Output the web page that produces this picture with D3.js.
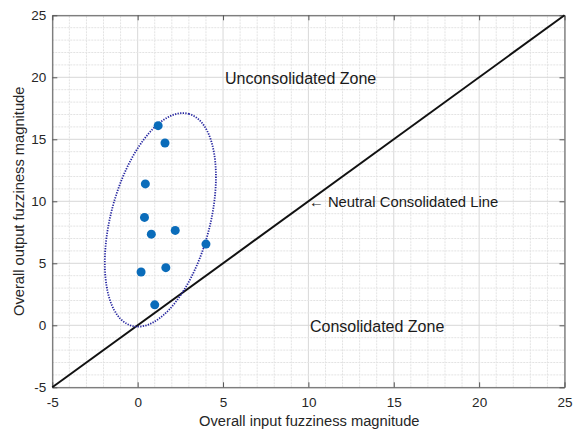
<!DOCTYPE html>
<html>
<head>
<meta charset="utf-8">
<script src="https://cdn.jsdelivr.net/npm/d3@7"></script>
<style>
  html, body { margin: 0; padding: 0; background: #fff; }
  svg { display: block; font-family: "Liberation Sans", Arial, sans-serif; }
</style>
</head>
<body>
<svg id="chart" width="574" height="430"></svg>
<script>
// Fuzziness magnitudes: input (x) vs output (y) per case
const inputMagnitude  = [1.2, 1.6, 0.45, 0.4, 0.8, 2.2, 4.0, 0.2, 1.65, 1.0];
const outputMagnitude = [16.1, 14.7, 11.4, 8.7, 7.35, 7.65, 6.55, 4.3, 4.65, 1.65];

const xTicks = [-5, 0, 5, 10, 15, 20, 25];
const yTicks = [-5, 0, 5, 10, 15, 20, 25];

// Cluster outline: centre and two conjugate semi-axis vectors (data units)
const clusterCenter = [1.33, 8.5];
const clusterAxisU  = [1.66, 8.55];
const clusterAxisV  = [2.80, -1.03];

const svg = d3.select("#chart");
const margin = { left: 52.3, right: 9.5, top: 15.3, bottom: 42.7 };
const W = 574, H = 430;

const x = d3.scaleLinear().domain([-5, 25]).range([margin.left, W - margin.right]);
const y = d3.scaleLinear().domain([-5, 25]).range([H - margin.bottom, margin.top]);

const g = svg.append("g");

// Grid: every unit, slightly stronger on the major ticks
const minor = d3.range(-5, 26, 1);
g.append("g").selectAll("line").data(minor).join("line")
  .attr("x1", d => x(d)).attr("x2", d => x(d))
  .attr("y1", y(-5)).attr("y2", y(25))
  .attr("stroke", d => d % 5 === 0 ? "#d8d8d8" : "#e3e3e3")
  .attr("stroke-width", 1)
  .attr("stroke-dasharray", d => d % 5 === 0 ? null : "2,1");
g.append("g").selectAll("line").data(minor).join("line")
  .attr("y1", d => y(d)).attr("y2", d => y(d))
  .attr("x1", x(-5)).attr("x2", x(25))
  .attr("stroke", d => d % 5 === 0 ? "#d8d8d8" : "#e3e3e3")
  .attr("stroke-width", 1)
  .attr("stroke-dasharray", d => d % 5 === 0 ? null : "2,1");

// Axes (box with ticks on all four sides)
const axisColor = "#555";
const tickFont = "13.5px";
const fmt = d => String(d);
const xAxis = g.append("g").attr("transform", `translate(0,${y(-5)})`)
  .call(d3.axisBottom(x).tickValues(xTicks).tickFormat(fmt).tickSize(-5).tickSizeOuter(0).tickPadding(10));
const yAxis = g.append("g").attr("transform", `translate(${x(-5)},0)`)
  .call(d3.axisLeft(y).tickValues(yTicks).tickFormat(fmt).tickSize(-5).tickSizeOuter(0).tickPadding(6));
const xTop = g.append("g").attr("transform", `translate(0,${y(25)})`)
  .call(d3.axisTop(x).tickValues(xTicks).tickSize(-5).tickSizeOuter(0).tickFormat(""));
const yRight = g.append("g").attr("transform", `translate(${x(25)},0)`)
  .call(d3.axisRight(y).tickValues(yTicks).tickSize(-5).tickSizeOuter(0).tickFormat(""));

[xAxis, yAxis, xTop, yRight].forEach(a => {
  a.select(".domain").attr("stroke", axisColor).attr("stroke-width", 1);
  a.selectAll(".tick line").attr("stroke", axisColor);
  a.selectAll(".tick text").attr("fill", "#262626")
    .style("font-size", tickFont).style("font-family", "Liberation Sans, Arial, sans-serif");
});

// Neutral consolidated line y = x
g.append("line")
  .attr("x1", x(-5)).attr("y1", y(-5))
  .attr("x2", x(25)).attr("y2", y(25))
  .attr("stroke", "#111").attr("stroke-width", 2);

// Dotted cluster outline
const ts = d3.range(0, 361, 2).map(d => d * Math.PI / 180);
const ellipsePts = ts.map(t => [
  clusterCenter[0] + clusterAxisU[0] * Math.cos(t) + clusterAxisV[0] * Math.sin(t),
  clusterCenter[1] + clusterAxisU[1] * Math.cos(t) + clusterAxisV[1] * Math.sin(t)
]);
g.append("path")
  .attr("d", d3.line().x(d => x(d[0])).y(d => y(d[1])).curve(d3.curveLinearClosed)(ellipsePts))
  .attr("fill", "none").attr("stroke", "#2626a0")
  .attr("stroke-width", 1.8).attr("stroke-dasharray", "1.3,1.3");

// Cases
g.append("g").selectAll("circle").data(inputMagnitude).join("circle")
  .attr("cx", d => x(d))
  .attr("cy", (d, i) => y(outputMagnitude[i]))
  .attr("r", 4.5)
  .attr("fill", "#0a6cba");

// Annotations
const ann = g.append("g").attr("fill", "#1a1a1a").style("font-size", "16px");
ann.append("text").attr("x", 225).attr("y", 84).text("Unconsolidated Zone");
ann.append("text").attr("x", 310).attr("y", 332).text("Consolidated Zone");
ann.append("text").attr("x", 309).attr("y", 207).style("font-size", "14.8px")
  .text("\u2190 Neutral Consolidated Line");

// Axis titles
svg.append("text")
  .attr("x", 309.3).attr("y", 425.5)
  .attr("text-anchor", "middle").attr("fill", "#262626")
  .style("font-size", "14.7px")
  .text("Overall input fuzziness magnitude");
svg.append("text")
  .attr("transform", `translate(24,${(y(-5) + y(25)) / 2}) rotate(-90)`)
  .attr("text-anchor", "middle").attr("fill", "#262626")
  .style("font-size", "14.7px")
  .text("Overall output fuzziness magnitude");
</script>
</body>
</html>
